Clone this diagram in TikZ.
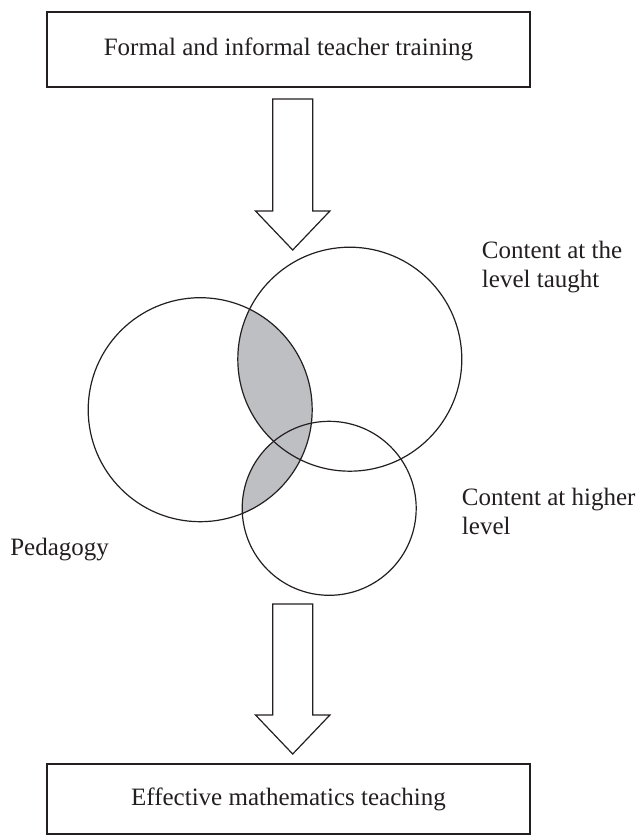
\documentclass[tikz,border=0pt]{standalone}
\usepackage{fontspec}
\setmainfont{Liberation Serif}
\definecolor{ink}{RGB}{35,31,32}
\definecolor{regiongray}{RGB}{190,191,195}
\newcommand\myblockarrow[3]{% #1 centre x, #2 top y, #3 tip y
  \draw[arrowline] (#1-20,#2) -- (#1+20,#2) -- (#1+20,#3-39) -- (#1+37.2,#3-39)
    -- (#1,#3) -- (#1-37.2,#3-39) -- (#1-20,#3-39) -- cycle;}
\begin{document}
\begin{tikzpicture}[x=0.75pt,y=-0.75pt,
  txt/.style={font=\fontsize{18.75}{21.75}\selectfont, text=ink, inner sep=0pt},
  box/.style={draw=ink, line width=0.9pt, inner sep=0pt, minimum width=362.25pt, txt},
  ring/.style={draw=ink, line width=0.9pt},
  arrowline/.style={draw=ink, line width=0.9pt, fill=white, line join=miter}]
\useasboundingbox (0,0) rectangle (641,836);
% boxes
\node[box, minimum height=56.25pt] (train) at (288.5,49.5) {Formal and informal teacher training};
\node[box, minimum height=52.5pt] (teach) at (288.5,799) {Effective mathematics teaching};
% circle centres
\coordinate (ped) at (200.2,409.7);
\coordinate (cl) at (349.8,359.2);
\coordinate (ch) at (329.2,508.3);
% shaded overlaps
\begin{scope}
  \clip (ped) circle[radius=112];
  \fill[regiongray] (cl) circle[radius=112];
  \fill[regiongray] (ch) circle[radius=87];
\end{scope}
\draw[ring] (ped) circle[radius=112];
\draw[ring] (cl) circle[radius=112];
\draw[ring] (ch) circle[radius=87];
% block arrows
\myblockarrow{292.7}{99}{250}
\myblockarrow{292.7}{604}{754}
% labels
\node[txt, anchor=base west] (cl1) at (481.7,258) {Content at the};
\node[txt, anchor=base west] (cl2) at (481.7,287) {level taught};
\node[txt, anchor=base west] (ch1) at (461.7,505) {Content at higher};
\node[txt, anchor=base west] (ch2) at (461.7,534) {level};
\node[txt, anchor=base west] (pl) at (10,555) {Pedagogy};
\end{tikzpicture}
\end{document}
